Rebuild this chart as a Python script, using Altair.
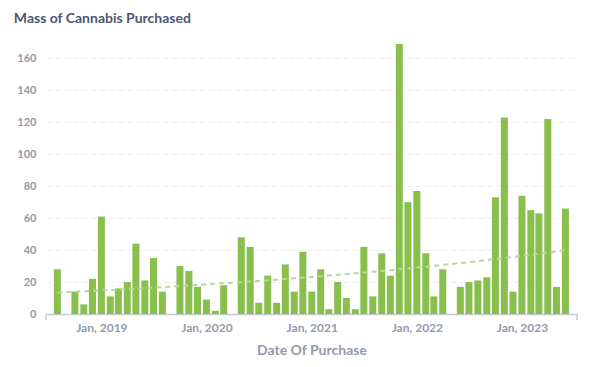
import altair as alt
import pandas as pd

months = [
    "2018-08", "2018-10", "2018-11", "2018-12",
    "2019-01", "2019-02", "2019-03", "2019-04", "2019-05", "2019-06", "2019-07", "2019-08",
    "2019-10", "2019-11", "2019-12",
    "2020-01", "2020-02", "2020-03", "2020-05", "2020-06", "2020-07", "2020-08", "2020-09",
    "2020-10", "2020-11", "2020-12",
    "2021-01", "2021-02", "2021-03", "2021-04", "2021-05", "2021-06", "2021-07", "2021-08",
    "2021-09", "2021-10", "2021-11", "2021-12",
    "2022-01", "2022-02", "2022-03", "2022-04", "2022-06", "2022-07", "2022-08", "2022-09",
    "2022-10", "2022-11", "2022-12",
    "2023-01", "2023-02", "2023-03", "2023-04", "2023-05", "2023-06",
]
mass = [
    28, 14, 6, 22,
    61, 11, 16, 20, 44, 21, 35, 14,
    30, 27, 17,
    9, 2, 18, 48, 42, 7, 24, 7,
    31, 14, 39,
    14, 28, 3, 20, 10, 3, 42, 11,
    38, 24, 169, 70,
    77, 38, 11, 28, 17, 20, 21, 23,
    73, 123, 14,
    74, 65, 63, 122, 17, 66,
]
y_ticks = [0, 20, 40, 60, 80, 100, 120, 140, 160]

df = pd.DataFrame({"date": [m + "-01" for m in months], "mass": mass})

GREEN = "#88bf4d"
LABEL = "#949aab"
FONT = "Lato"

x_scale = alt.Scale(
    domain=[alt.DateTime(year=2018, month=7, date=10, utc=True),
            alt.DateTime(year=2023, month=6, date=24, utc=True)],
    nice=False,
)
y_scale = alt.Scale(domain=[0, 169], nice=False)

x_axis = alt.Axis(
    format="%b, %Y",
    tickCount={"interval": "year", "step": 1},
    ticks=False,
    grid=False,
    domainColor="#c6c9d2",
    domainWidth=1.5,
    labelColor=LABEL,
    labelFont=FONT,
    labelFontSize=12,
    labelFontWeight="bold",
    labelPadding=8,
    titleColor=LABEL,
    titleFont=FONT,
    titleFontSize=14,
    titleFontWeight="bold",
    titlePadding=10,
)
y_axis = alt.Axis(
    values=y_ticks,
    tickCount=9,
    ticks=False,
    domain=False,
    labelOverlap=False,
    gridColor="#ededed",
    gridDash=[5, 4],
    labelColor=LABEL,
    labelFont=FONT,
    labelFontSize=11,
    labelFontWeight="bold",
    labelPadding=10,
)

base = alt.Chart(df).transform_calculate(ts="time(toDate(datum.date))")

bars = base.mark_bar(color=GREEN, width=7).encode(
    x=alt.X("ts:T", scale=x_scale, title="Date Of Purchase", axis=x_axis),
    y=alt.Y("mass:Q", scale=y_scale, title=None, axis=y_axis),
)

# exponential trend: least squares fit of log(mass) against time
trend = (
    base.transform_calculate(logy="log(datum.mass)")
    .transform_joinaggregate(mx="mean(ts)", my="mean(logy)")
    .transform_calculate(
        dxy="(datum.ts - datum.mx) * (datum.logy - datum.my)",
        dxx="(datum.ts - datum.mx) * (datum.ts - datum.mx)",
    )
    .transform_joinaggregate(sxy="sum(dxy)", sxx="sum(dxx)")
    .transform_calculate(fit="exp(datum.my + datum.sxy / datum.sxx * (datum.ts - datum.mx))")
    .mark_line(color="#b5d99c", strokeDash=[5, 4], strokeWidth=2)
    .encode(
        x=alt.X("ts:T", scale=x_scale, title="Date Of Purchase", axis=x_axis),
        y=alt.Y("fit:Q", scale=y_scale, title=None, axis=y_axis),
    )
)

one = alt.Data(values=[{"a": 0}])
cap_left = alt.Chart(one).mark_rule(color="#c6c9d2", strokeWidth=1.5).encode(
    x=alt.value(0), y=alt.value(270), y2=alt.value(276)
)
cap_right = alt.Chart(one).mark_rule(color="#c6c9d2", strokeWidth=1.5).encode(
    x=alt.value(531), y=alt.value(270), y2=alt.value(276)
)

chart = alt.layer(bars, trend, cap_left, cap_right).properties(
    width=531,
    height=270,
    padding={"left": 38, "top": 36, "right": 18, "bottom": 45},
    autosize=alt.AutoSizeParams(type="none"),
    title=alt.TitleParams(
        "Mass of Cannabis Purchased",
        anchor="start",
        font=FONT,
        fontSize=14,
        fontWeight="bold",
        color="#4c5773",
        dx=-3,
        dy=-14,
    ),
).configure_view(stroke=None)

chart.save("out.html", embed_options={"renderer": "svg", "actions": False})
